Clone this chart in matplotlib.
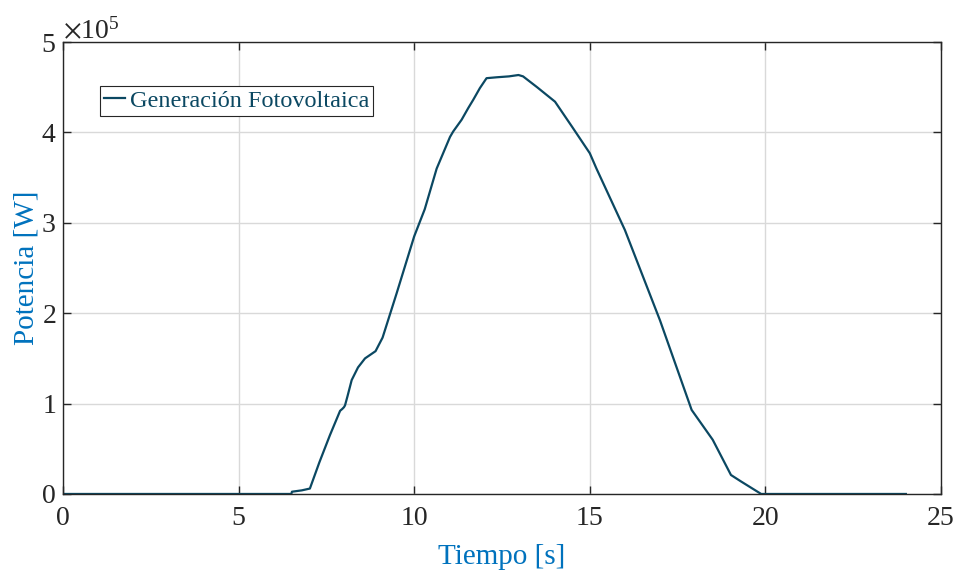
import matplotlib.pyplot as plt
from matplotlib.ticker import ScalarFormatter

# photovoltaic output over the day
tiempo = [0.0, 6.5, 6.52, 6.8, 7.03, 7.3, 7.6, 7.89, 7.95, 8.0, 8.03, 8.1, 8.22,
          8.4, 8.6, 8.9, 9.1, 9.5, 10.0, 10.3, 10.64, 11.02, 11.11, 11.35, 11.54,
          11.68, 11.87, 12.06, 12.35, 12.7, 12.97, 13.1, 13.5, 14.01, 14.5, 15.0,
          15.19, 16.0, 17.0, 17.9, 18.5, 19.02, 19.3, 19.88, 20.0, 24.0]
potencia = [0, 0, 2500, 4000, 6000, 35000, 65000, 92000, 94000, 96000, 98000,
            108000, 126000, 140000, 150000, 158000, 173000, 222000, 285000,
            315000, 360000, 395000, 401000, 414000, 427000, 436000, 449000,
            460000, 461000, 462000, 463500, 462000, 450000, 434000, 406000,
            377000, 360000, 292000, 192000, 93000, 60000, 21000, 14000, 0, 0, 0]

plt.rcParams['font.family'] = ['Liberation Serif', 'DejaVu Serif']
plt.rcParams['mathtext.fontset'] = 'stix'

fig = plt.figure(figsize=(9.59, 5.71), dpi=100)
ax = fig.add_axes([0.0657, 0.1349, 0.9155, 0.7915])

ax.plot(tiempo, potencia, color='#0b4862', linewidth=1.6,
        label='Generación Fotovoltaica')

ax.set_xlim(0, 25)
ax.set_ylim(0, 5e5)
ax.set_xticks(range(0, 26, 5))
ax.set_yticks([0, 1e5, 2e5, 3e5, 4e5, 5e5])

fmt = ScalarFormatter(useMathText=True)
fmt.set_powerlimits((0, 0))
ax.yaxis.set_major_formatter(fmt)
ax.yaxis.get_offset_text().set_fontsize(20)
ax.yaxis.get_offset_text().set_color('#262626')

ax.grid(True, color='#d9d9d9', linewidth=1.0)
ax.set_axisbelow(True)
ax.tick_params(direction='in', top=True, right=True, length=6, width=1,
               labelsize=20, colors='#262626', pad=5)
ax.tick_params(axis='x', pad=9)
for s in ax.spines.values():
    s.set_color('#262626')
    s.set_linewidth(1.0)

ax.set_xlabel('Tiempo [s]', fontsize=21, color='#0072BD', labelpad=9)
ax.set_ylabel('Potencia [W]', fontsize=21, color='#0072BD', labelpad=1)

leg = ax.legend(loc='upper left', bbox_to_anchor=(0.042, 0.902), fontsize=17.5,
                handlelength=0.9, handletextpad=0.2, borderpad=0.15,
                fancybox=False, framealpha=1, edgecolor='#262626',
                borderaxespad=0)
leg.get_frame().set_linewidth(0.8)
for t in leg.get_texts():
    t.set_color('#0b4862')

fig.savefig('out.png', dpi=100)
